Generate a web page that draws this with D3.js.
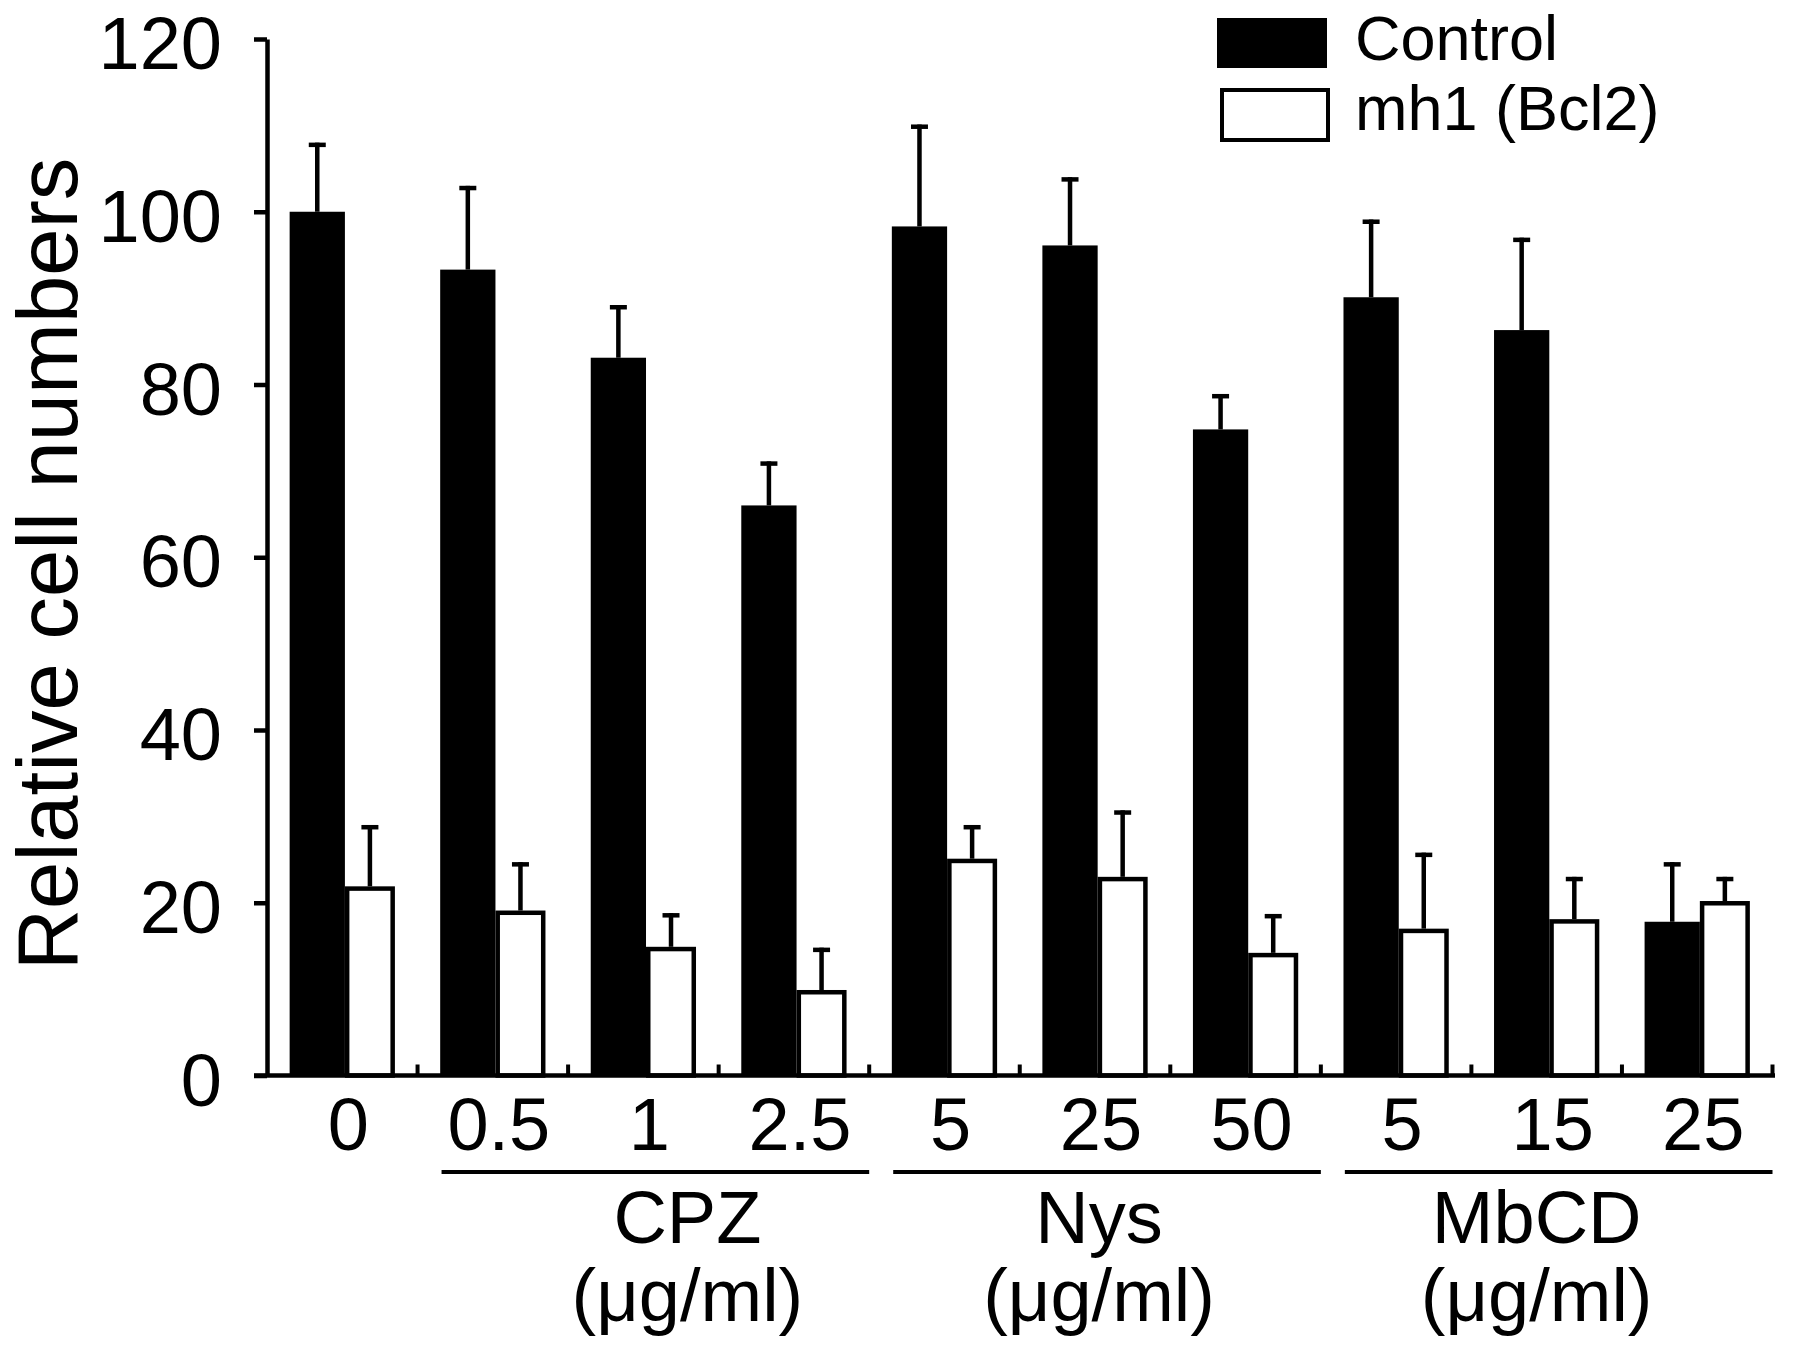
<!DOCTYPE html>
<html>
<head>
<meta charset="utf-8">
<script src="https://cdn.jsdelivr.net/npm/d3@7"></script>
<style>
  body { margin: 0; background: #fff; }
  text { font-family: "Liberation Sans", Arial, sans-serif; fill: #000; }
</style>
</head>
<body>
<div id="chart"></div>
<script>
// values
const doses = ["0", "0.5", "1", "2.5", "5", "25", "50", "5", "15", "25"];
const series = ["Control", "mh1 (Bcl2)"];
const control = [100, 93.3, 83.1, 66.0, 98.3, 96.1, 74.8, 90.1, 86.3, 17.8];
const controlErr = [8.0, 9.7, 6.1, 5.1, 11.8, 7.9, 4.1, 9.0, 10.7, 6.9];
const mh1 = [21.9, 19.1, 14.9, 9.9, 25.1, 23.0, 14.2, 17.0, 18.1, 20.2];
const mh1Err = [7.1, 5.6, 3.9, 4.9, 3.9, 7.7, 4.5, 8.8, 4.9, 2.8];
const drugs = ["CPZ", "Nys", "MbCD"];
const drugSpan = [[1, 3], [4, 6], [7, 9]];
const yTicks = [0, 20, 40, 60, 80, 100, 120];

const width = 1795;
const height = 1351;

const svg = d3.select("#chart")
    .append("svg")
    .attr("width", width)
    .attr("height", height);

svg.append("rect").attr("width", width).attr("height", height).attr("fill", "#fff");

const idx = d3.range(doses.length);

const x = d3.scaleBand()
    .domain(idx)
    .range([267, 1772.5])
    .padding(0);

const sub = d3.scaleBand()
    .domain(series)
    .range([0, x.bandwidth()])
    .paddingInner(0)
    .paddingOuter(0.43);

const y = d3.scaleLinear()
    .domain([0, 120])
    .range([1075.5, 39]);

// bars
const rows = idx.map(i => ({ i, c: control[i], ce: controlErr[i], m: mh1[i], me: mh1Err[i] }));

const g = svg.append("g");

const sw = sub.bandwidth();
const blackW = sw * 1.05;
const whiteW = sw * 0.95;

g.selectAll(".ctrl")
    .data(rows)
    .enter()
    .append("rect")
    .attr("class", "ctrl")
    .attr("x", d => x(d.i) + sub("Control"))
    .attr("y", d => y(d.c))
    .attr("width", blackW)
    .attr("height", d => y(0) - y(d.c))
    .attr("fill", "#000");

g.selectAll(".mh")
    .data(rows)
    .enter()
    .append("rect")
    .attr("class", "mh")
    .attr("x", d => x(d.i) + sub("Control") + blackW + 2.25)
    .attr("y", d => y(d.m) + 2.25)
    .attr("width", whiteW - 4.5)
    .attr("height", d => y(0) - y(d.m) - 2.25)
    .attr("fill", "#fff")
    .attr("stroke", "#000")
    .attr("stroke-width", 4.5);

// error bars (upper only)
function errBars(cls, cx, val, err) {
    g.selectAll("." + cls + "v")
        .data(rows)
        .enter()
        .append("line")
        .attr("x1", cx).attr("x2", cx)
        .attr("y1", d => y(val(d)))
        .attr("y2", d => y(val(d) + err(d)))
        .attr("stroke", "#000")
        .attr("stroke-width", 4.5);
    g.selectAll("." + cls + "c")
        .data(rows)
        .enter()
        .append("line")
        .attr("x1", d => cx(d) - 8.5).attr("x2", d => cx(d) + 8.5)
        .attr("y1", d => y(val(d) + err(d)) + 2.2)
        .attr("y2", d => y(val(d) + err(d)) + 2.2)
        .attr("stroke", "#000")
        .attr("stroke-width", 4.5);
}
errBars("ce", d => x(d.i) + sub("Control") + blackW / 2, d => d.c, d => d.ce);
errBars("me", d => x(d.i) + sub("Control") + blackW + whiteW / 2, d => d.m, d => d.me);

// y axis
const yAxis = svg.append("g")
    .attr("transform", `translate(${x.range()[0]},0)`)
    .call(d3.axisLeft(y).tickValues(yTicks).tickSize(13).tickSizeOuter(0).tickPadding(32));
yAxis.select(".domain").attr("stroke-width", 4.5);
yAxis.selectAll(".tick line").attr("stroke-width", 4.5);
yAxis.selectAll(".tick text")
    .attr("dy", "0.4em")
    .attr("fill", "#000")
    .style("font-size", "74px")
    .style("font-family", "'Liberation Sans', Arial, sans-serif");

// x axis line with small inward ticks at category boundaries
svg.append("line")
    .attr("x1", x.range()[0] - 13).attr("x2", x.range()[1] + 2.5)
    .attr("y1", y(0)).attr("y2", y(0))
    .attr("stroke", "#000").attr("stroke-width", 4.5);

svg.selectAll(".xtick")
    .data(idx)
    .enter()
    .append("line")
    .attr("x1", i => x(i) + x.bandwidth()).attr("x2", i => x(i) + x.bandwidth())
    .attr("y1", y(0)).attr("y2", y(0) - 11)
    .attr("stroke", "#000").attr("stroke-width", 4);

svg.selectAll(".xlab")
    .data(idx)
    .enter()
    .append("text")
    .attr("x", i => x(i) + x.bandwidth() / 2 + 6)
    .attr("y", 1150)
    .attr("text-anchor", "middle")
    .style("font-size", "74px")
    .text(i => doses[i]);

// drug groups: underline plus name and unit, names sit a bit off-centre as in the figure
const labelNudge = [32, -8, -22];
drugs.forEach((name, k) => {
    const a = x(drugSpan[k][0]) + 24;
    const b = x(drugSpan[k][1]) + x.bandwidth();
    svg.append("line")
        .attr("x1", a).attr("x2", b)
        .attr("y1", 1172).attr("y2", 1172)
        .attr("stroke", "#000").attr("stroke-width", 4);
    const cx = (a + b) / 2 + labelNudge[k];
    svg.append("text")
        .attr("x", cx).attr("y", 1243)
        .attr("text-anchor", "middle")
        .style("font-size", "74px")
        .text(name);
    svg.append("text")
        .attr("x", cx).attr("y", 1321)
        .attr("text-anchor", "middle")
        .style("font-size", "74px")
        .text("(μg/ml)");
});

// y label
svg.append("text")
    .attr("transform", "translate(77,564) rotate(-90)")
    .attr("text-anchor", "middle")
    .style("font-size", "85px")
    .text("Relative cell numbers");

// legend
const legend = svg.append("g");
legend.append("rect")
    .attr("x", 1217).attr("y", 18).attr("width", 110).attr("height", 50)
    .attr("fill", "#000");
legend.append("rect")
    .attr("x", 1222).attr("y", 90).attr("width", 106).attr("height", 50)
    .attr("fill", "#fff").attr("stroke", "#000").attr("stroke-width", 4);
legend.append("text").attr("x", 1355).attr("y", 60).style("font-size", "63px").text(series[0]);
legend.append("text").attr("x", 1355).attr("y", 130).style("font-size", "63px").text(series[1]);
</script>
</body>
</html>
